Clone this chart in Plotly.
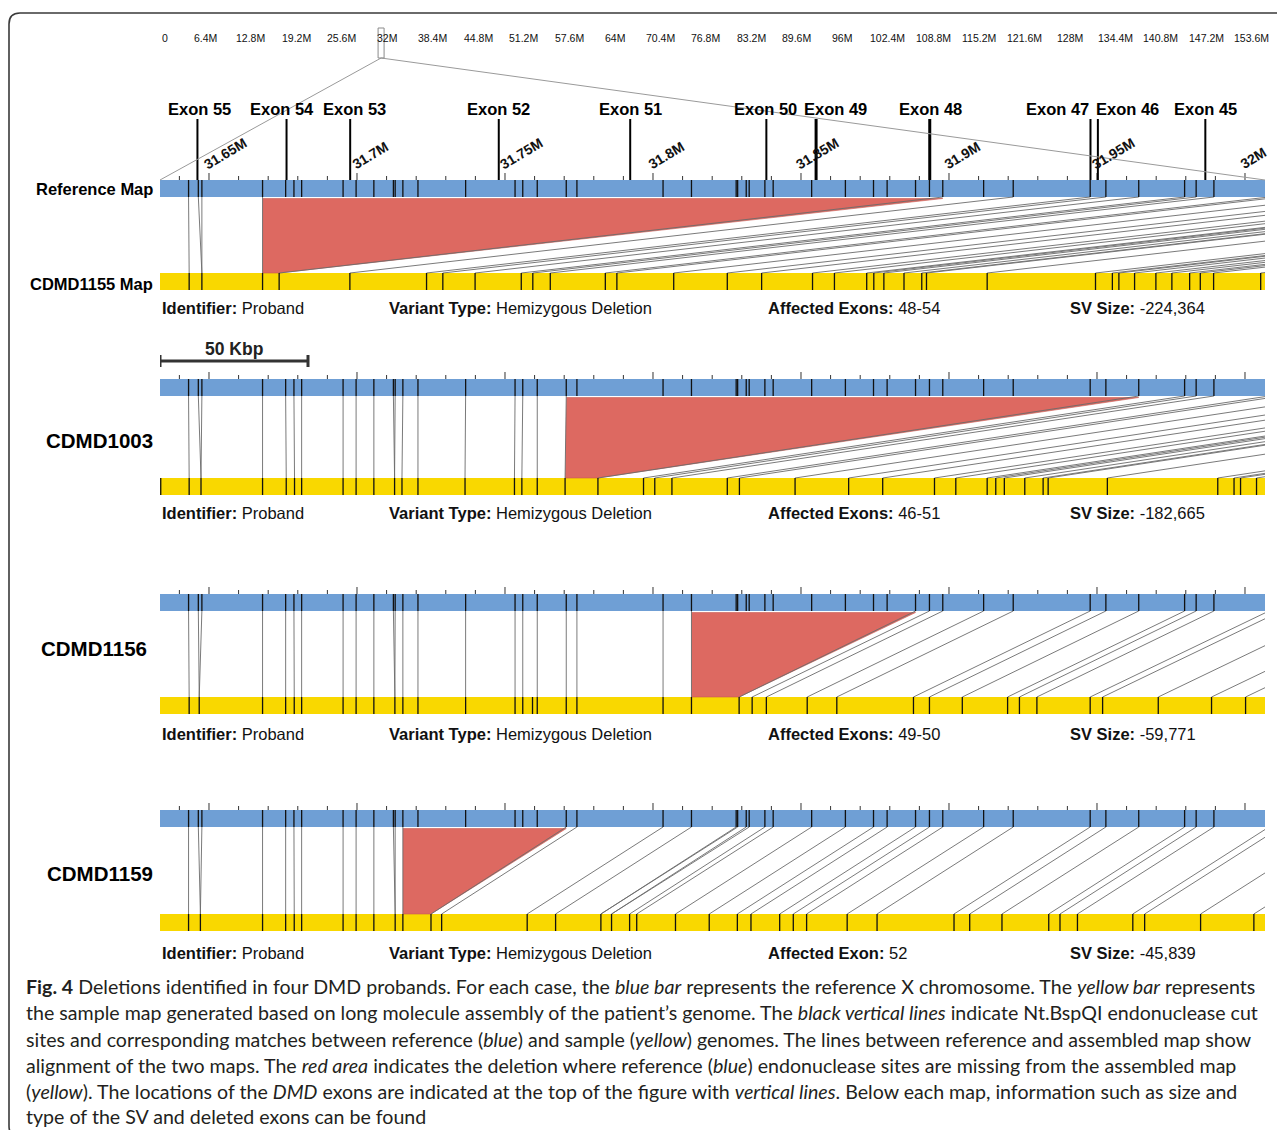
import plotly.graph_objects as go

# ------------------------------------------------------------------ data
# chromosome X overview scale (Mb)
chrom_tick_mb = [0, 6.4, 12.8, 19.2, 25.6, 32, 38.4, 44.8, 51.2, 57.6, 64, 70.4, 76.8,
                 83.2, 89.6, 96, 102.4, 108.8, 115.2, 121.6, 128, 134.4, 140.8, 147.2, 153.6]
chrom_tick_text = ["0", "6.4M", "12.8M", "19.2M", "25.6M", "32M", "38.4M", "44.8M", "51.2M",
                   "57.6M", "64M", "70.4M", "76.8M", "83.2M", "89.6M", "96M", "102.4M", "108.8M",
                   "115.2M", "121.6M", "128M", "134.4M", "140.8M", "147.2M", "153.6M"]
chrom_len_mb = 155.44
overview_marker_mb = 31.1   # where the zoom box sits on the overview scale

# zoomed window on chrX (kb)
window_kb = [31633.45, 32006.76]
major_tick_kb = [31650, 31700, 31750, 31800, 31850, 31900, 31950, 32000]
major_tick_text = ["31.65M", "31.7M", "31.75M", "31.8M", "31.85M", "31.9M", "31.95M", "32M"]
minor_tick_kb = list(range(31640, 32001, 10))
scale_bar_kb = 50

exon_names = ["Exon 55", "Exon 54", "Exon 53", "Exon 52", "Exon 51", "Exon 50",
              "Exon 49", "Exon 48", "Exon 47", "Exon 46", "Exon 45"]
exon_kb = [31646.1, 31676.2, 31697.7, 31747.9, 31792.3, 31838.3,
           31855.1, 31893.5, 31947.8, 31950.3, 31986.6]

# reference (blue) Nt.BspQI sites inside the window (kb)
ref_sites_kb = [31643.1, 31646.4, 31647.6, 31668.1, 31675.9, 31678.7, 31681.3, 31695.3,
                31699.7, 31705.7, 31712.3, 31712.9, 31715.5, 31720.6, 31736.7, 31753.4,
                31756.0, 31760.9, 31770.7, 31774.3, 31803.4, 31813.0, 31828.1, 31828.6,
                31831.5, 31832.5, 31837.8, 31840.6, 31853.6, 31865.0, 31874.5, 31879.1,
                31888.7, 31893.4, 31897.9, 31911.7, 31921.7, 31947.7, 31953.0, 31964.1,
                31979.6, 31983.5, 31989.5]

sample_names = ["CDMD1155", "CDMD1003", "CDMD1156", "CDMD1159"]

# CDMD1155 assembled map
s1155_sites_kb = [31643.3, 31647.6, 31668.1, 31673.7, 31697.6, 31723.5, 31729.0, 31739.9,
                  31755.5, 31759.4, 31765.3, 31783.9, 31787.8, 31807.0, 31825.1, 31836.7,
                  31853.9, 31861.3, 31872.2, 31874.6, 31878.0, 31884.8, 31890.8, 31892.4,
                  31912.9, 31949.5, 31955.2, 31957.4, 31962.7, 31969.9, 31975.3, 31981.3,
                  31984.9, 31989.4, 32005.3]
s1155_align_ref_kb = [31643.1, 31646.4, 31647.6, 31668.1, 31897.9, 31921.7, 31947.7, 31953.0,
                      31964.1, 31979.6, 31983.5, 31989.5, 32008.1, 32012.2, 32031.1, 32049.3,
                      32060.8, 32078.0, 32085.5, 32096.3, 32098.6, 32102.0, 32108.8, 32114.9,
                      32116.6, 32136.8, 32173.6, 32179.4, 32181.4, 32186.8, 32194.3, 32199.7,
                      32205.7, 32209.1, 32213.9, 32229.7]
s1155_align_smp_kb = [31643.3, 31647.6, 31647.6, 31668.1, 31673.7, 31697.6, 31723.5, 31729.0,
                      31739.9, 31755.5, 31759.4, 31765.3, 31783.9, 31787.8, 31807.0, 31825.1,
                      31836.7, 31853.9, 31861.3, 31872.2, 31874.6, 31878.0, 31884.8, 31890.8,
                      31892.4, 31912.9, 31949.5, 31955.2, 31957.4, 31962.7, 31969.9, 31975.3,
                      31981.3, 31984.9, 31989.4, 32005.3]

# CDMD1003 assembled map
s1003_sites_kb = [31633.7, 31643.3, 31647.3, 31668.1, 31676.1, 31678.9, 31681.3, 31695.3,
                  31699.7, 31705.7, 31712.7, 31715.2, 31720.6, 31736.5, 31753.2, 31755.7,
                  31760.9, 31770.3, 31781.4, 31796.8, 31800.6, 31806.4, 31825.1, 31829.2,
                  31848.0, 31866.1, 31877.6, 31895.1, 31902.3, 31912.9, 31915.8, 31918.7,
                  31925.6, 31931.8, 31933.5, 31953.5, 31990.8, 31996.3, 31998.5, 32003.9]
s1003_align_ref_kb = [31643.1, 31646.4, 31647.6, 31668.1, 31675.9, 31678.7, 31681.3, 31695.3,
                      31699.7, 31705.7, 31712.3, 31712.9, 31715.5, 31720.6, 31736.7, 31753.4,
                      31756.0, 31760.9, 31770.7, 31964.1, 31979.6, 31983.5, 31989.5, 32008.1,
                      32012.2, 32031.1, 32049.3, 32060.8, 32078.0, 32085.5, 32096.3, 32098.6,
                      32102.0, 32108.8, 32114.9, 32116.6, 32136.8, 32173.6, 32179.4, 32181.4,
                      32186.8]
s1003_align_smp_kb = [31643.3, 31647.3, 31647.3, 31668.1, 31676.1, 31678.9, 31681.3, 31695.3,
                      31699.7, 31705.7, 31712.7, 31712.7, 31715.2, 31720.6, 31736.5, 31753.2,
                      31755.7, 31760.9, 31770.3, 31781.4, 31796.8, 31800.6, 31806.4, 31825.1,
                      31829.2, 31848.0, 31866.1, 31877.6, 31895.1, 31902.3, 31912.9, 31915.8,
                      31918.7, 31925.6, 31931.8, 31933.5, 31953.5, 31990.8, 31996.3, 31998.5,
                      32003.9]

# CDMD1156 assembled map
s1156_sites_kb = [31643.3, 31646.7, 31668.1, 31675.9, 31678.8, 31681.3, 31695.3, 31699.7,
                  31705.7, 31712.8, 31715.5, 31720.6, 31736.7, 31753.4, 31756.0, 31759.3,
                  31760.9, 31770.7, 31774.3, 31803.4, 31813.0, 31829.1, 31833.5, 31838.3,
                  31852.1, 31862.1, 31888.0, 31893.4, 31904.5, 31919.8, 31923.8, 31929.7,
                  31947.7, 31951.9, 31970.7, 31988.7, 32000.2]
s1156_align_ref_kb = [31643.1, 31646.4, 31647.6, 31668.1, 31675.9, 31678.7, 31681.3, 31695.3,
                      31699.7, 31705.7, 31712.3, 31712.9, 31715.5, 31720.6, 31736.7, 31753.4,
                      31756.0, 31760.9, 31770.7, 31774.3, 31803.4, 31813.0, 31888.7, 31893.4,
                      31897.9, 31911.7, 31921.7, 31947.7, 31953.0, 31964.1, 31979.6, 31983.5,
                      31989.5, 32008.1, 32012.2, 32031.1, 32049.3, 32060.8]
s1156_align_smp_kb = [31643.3, 31646.7, 31646.7, 31668.1, 31675.9, 31678.8, 31681.3, 31695.3,
                      31699.7, 31705.7, 31712.8, 31712.8, 31715.5, 31720.6, 31736.7, 31753.4,
                      31756.0, 31760.9, 31770.7, 31774.3, 31803.4, 31813.0, 31829.1, 31833.5,
                      31838.3, 31852.1, 31862.1, 31888.0, 31893.4, 31904.5, 31919.8, 31923.8,
                      31929.7, 31947.7, 31951.9, 31970.7, 31988.7, 32000.2]

# CDMD1159 assembled map
s1159_sites_kb = [31643.1, 31647.1, 31668.1, 31675.9, 31678.8, 31681.3, 31695.3, 31699.7,
                  31705.7, 31712.9, 31715.5, 31725.0, 31728.6, 31757.5, 31767.1, 31782.4,
                  31786.0, 31792.1, 31794.5, 31807.6, 31819.0, 31828.5, 31833.1, 31842.8,
                  31847.4, 31851.9, 31865.6, 31875.7, 31901.7, 31907.0, 31917.9, 31933.7,
                  31937.5, 31943.4, 31962.1, 31966.1, 31985.0, 32003.0]
s1159_align_ref_kb = [31643.1, 31646.4, 31647.6, 31668.1, 31675.9, 31678.7, 31681.3, 31695.3,
                      31699.7, 31705.7, 31712.3, 31712.9, 31715.5, 31770.7, 31774.3, 31803.4,
                      31813.0, 31828.1, 31828.6, 31831.5, 31832.5, 31837.8, 31840.6, 31853.6,
                      31865.0, 31874.5, 31879.1, 31888.7, 31893.4, 31897.9, 31911.7, 31921.7,
                      31947.7, 31953.0, 31964.1, 31979.6, 31983.5, 31989.5, 32008.1, 32012.2,
                      32031.1, 32049.3]
s1159_align_smp_kb = [31643.1, 31647.1, 31647.1, 31668.1, 31675.9, 31678.8, 31681.3, 31695.3,
                      31699.7, 31705.7, 31712.9, 31712.9, 31715.5, 31725.0, 31728.6, 31757.5,
                      31767.1, 31782.4, 31782.4, 31786.0, 31786.0, 31792.1, 31794.5, 31807.6,
                      31819.0, 31828.5, 31833.1, 31842.8, 31847.4, 31851.9, 31865.6, 31875.7,
                      31901.7, 31907.0, 31917.9, 31933.7, 31937.5, 31943.4, 31962.1, 31966.1,
                      31985.0, 32003.0]

# deletion flanks (kb): reference start/end, sample start/end
del_ref_start_kb = [31668.1, 31770.7, 31813.0, 31715.5]
del_ref_end_kb = [31897.9, 31964.1, 31888.7, 31770.7]
del_smp_start_kb = [31668.1, 31770.3, 31813.0, 31715.5]
del_smp_end_kb = [31673.7, 31781.4, 31829.1, 31725.0]

identifiers = ["Proband", "Proband", "Proband", "Proband"]
variant_types = ["Hemizygous Deletion"] * 4
affected_keys = ["Affected Exons:", "Affected Exons:", "Affected Exons:", "Affected Exon:"]
affected_vals = ["48-54", "46-51", "49-50", "52"]
sv_sizes = ["-224,364", "-182,665", "-59,771", "-45,839"]

caption_lines = [
    "<b>Fig. 4</b> Deletions identified in four DMD probands. For each case, the <i>blue bar</i> represents the reference X chromosome. The <i>yellow bar</i> represents",
    "the sample map generated based on long molecule assembly of the patient’s genome. The <i>black vertical lines</i> indicate Nt.BspQI endonuclease cut",
    "sites and corresponding matches between reference (<i>blue</i>) and sample (<i>yellow</i>) genomes. The lines between reference and assembled map show",
    "alignment of the two maps. The <i>red area</i> indicates the deletion where reference (<i>blue</i>) endonuclease sites are missing from the assembled map",
    "(<i>yellow</i>). The locations of the <i>DMD</i> exons are indicated at the top of the figure with <i>vertical lines</i>. Below each map, information such as size and",
    "type of the SV and deleted exons can be found",
]

align_ref = [s1155_align_ref_kb, s1003_align_ref_kb, s1156_align_ref_kb, s1159_align_ref_kb]
align_smp = [s1155_align_smp_kb, s1003_align_smp_kb, s1156_align_smp_kb, s1159_align_smp_kb]
sample_sites = [s1155_sites_kb, s1003_sites_kb, s1156_sites_kb, s1159_sites_kb]
for a, b in zip(align_ref, align_smp):
    assert len(a) == len(b)

# ------------------------------------------------------------------ layout / style
W, H = 1277, 1122
PL, PR = 160, 1265          # page pixel extent of the map window
PAGE_TOP, PAGE_BOT = 8, 1130
BAR_H = 17
blue_top = [180, 379, 594, 810]
yellow_top = [273, 478, 697, 914]
info_y = [308, 513, 734, 953]
name_y = [None, 440, 648, 873]
name_right = [155, 155, 149, 155]
info_x = [160, 387, 766, 1068]
exon_label_shift = [2, -5, 4, 0, 0, -1, 19, 1, -33, 30, 0]
exon_width = [2, 2, 2, 2, 2, 2, 3, 3, 2, 2, 2]
caption_y = [986, 1012.5, 1039, 1065, 1091, 1116.5]

BLUE = "#6F9FD5"
YELLOW = "#F9D800"
RED = "#DD6961"
FONT = "Liberation Sans, Arial, Helvetica, sans-serif"
CAPFONT = "Lato, Open Sans, sans-serif"


def paper(xpage):
    return (xpage - PL) / (PR - PL)


def segs(x0s, y0s, x1s, y1s):
    X, Y = [], []
    for a, b, c, d in zip(x0s, y0s, x1s, y1s):
        X += [a, c, None]
        Y += [b, d, None]
    return X, Y


fig = go.Figure()

# red deletion areas
for i in range(4):
    bb = blue_top[i] + BAR_H
    yt = yellow_top[i]
    fig.add_trace(go.Scatter(
        x=[del_ref_start_kb[i], del_ref_end_kb[i], del_smp_end_kb[i], del_smp_start_kb[i]],
        y=[bb + 1.5, bb + 1.5, yt, yt], fill="toself", fillcolor=RED, mode="lines",
        line=dict(color="#C65A52", width=0.6), hoverinfo="skip", showlegend=False))

# alignment lines
AX, AY = [], []
for i in range(4):
    bb = blue_top[i] + BAR_H
    yt = yellow_top[i]
    n = len(align_ref[i])
    X, Y = segs(align_ref[i], [bb] * n, align_smp[i], [yt] * n)
    AX += X
    AY += Y
fig.add_trace(go.Scatter(x=AX, y=AY, mode="lines", line=dict(color="#6b6b6b", width=0.9),
                         hoverinfo="skip", showlegend=False))

# cut-site lines in bars
SX, SY = [], []
for i in range(4):
    n = len(ref_sites_kb)
    X, Y = segs(ref_sites_kb, [blue_top[i]] * n, ref_sites_kb, [blue_top[i] + BAR_H] * n)
    SX += X
    SY += Y
    m = len(sample_sites[i])
    X, Y = segs(sample_sites[i], [yellow_top[i]] * m, sample_sites[i], [yellow_top[i] + BAR_H] * m)
    SX += X
    SY += Y
fig.add_trace(go.Scatter(x=SX, y=SY, mode="lines", line=dict(color="#111111", width=1.3),
                         hoverinfo="skip", showlegend=False))

# ticks above blue bars
TX, TY = [], []
for i in range(4):
    for t in minor_tick_kb:
        h = 7 if t in major_tick_kb else 4
        TX += [t, t, None]
        TY += [blue_top[i] - h, blue_top[i], None]
fig.add_trace(go.Scatter(x=TX, y=TY, mode="lines", line=dict(color="#333333", width=1),
                         hoverinfo="skip", showlegend=False))

# exon lines
for ek, w in zip(exon_kb, exon_width):
    fig.add_trace(go.Scatter(x=[ek, ek], y=[119, blue_top[0]], mode="lines",
                             line=dict(color="#000000", width=w), hoverinfo="skip",
                             showlegend=False))

# 50 kbp scale bar
sb0, sb1 = window_kb[0], window_kb[0] + scale_bar_kb
fig.add_trace(go.Scatter(x=[sb0, sb1, None, sb0, sb0, None, sb1, sb1],
                         y=[361, 361, None, 355, 367, None, 355, 367], mode="lines",
                         line=dict(color="#333333", width=3), hoverinfo="skip", showlegend=False))

# zoom lines from the overview box to the window ends
fig.add_trace(go.Scatter(x=[overview_marker_mb, 0, None, overview_marker_mb, chrom_len_mb],
                         y=[58, blue_top[0], None, 58, blue_top[0]], mode="lines",
                         line=dict(color="#9a9a9a", width=1), xaxis="x2", yaxis="y",
                         hoverinfo="skip", showlegend=False))

shapes = []
for i in range(4):
    shapes.append(dict(type="rect", xref="x", yref="y", x0=window_kb[0], x1=window_kb[1],
                       y0=blue_top[i], y1=blue_top[i] + BAR_H, fillcolor=BLUE,
                       line=dict(width=0), layer="below"))
    shapes.append(dict(type="rect", xref="x", yref="y", x0=window_kb[0], x1=window_kb[1],
                       y0=yellow_top[i], y1=yellow_top[i] + BAR_H, fillcolor=YELLOW,
                       line=dict(width=0), layer="below"))
# overview box
shapes.append(dict(type="rect", xref="x2", yref="y", xsizemode="pixel",
                   xanchor=overview_marker_mb, x0=-3, x1=3, y0=28, y1=58,
                   line=dict(color="#8a8a8a", width=1), fillcolor="rgba(0,0,0,0)"))
# outer rounded frame
xl, xr = paper(9), paper(1300)
rx = 11 / (PR - PL)
yt0, yb0, r = 13, 1137, 11
frame = (f"M {xl},{yb0 - r} L {xl},{yt0 + r} Q {xl},{yt0} {xl + rx},{yt0} L {xr},{yt0} "
         f"M {xl},{yt0 + r} L {xl},{yb0 - r} Q {xl},{yb0} {xl + rx},{yb0} L {xr},{yb0}")
shapes.append(dict(type="path", xref="paper", yref="y", path=frame,
                   line=dict(color="#3a3a3a", width=1.6)))

ann = []
# chromosome labels
for p, t in zip(chrom_tick_mb, chrom_tick_text):
    ann.append(dict(x=p, y=38, xref="x2", yref="y", text=t, showarrow=False,
                    xanchor="left" if p == 0 else "center",
                    font=dict(family=FONT, size=10.5, color="#111")))
# rotated coordinate labels
for p, t in zip(major_tick_kb, major_tick_text):
    ann.append(dict(x=p, y=blue_top[0] - 5, xref="x", yref="y", text=f"<b>{t}</b>",
                    showarrow=False, textangle=-31, xanchor="left", yanchor="bottom",
                    xshift=-10, font=dict(family=FONT, size=14, color="#111")))
# exon labels
for p, t, s in zip(exon_kb, exon_names, exon_label_shift):
    ann.append(dict(x=p, y=109, xref="x", yref="y", text=f"<b>{t}</b>", showarrow=False,
                    xshift=s, font=dict(family=FONT, size=16.5, color="#000")))
# left labels
ann.append(dict(x=paper(155), y=blue_top[0] + 9, xref="paper", yref="y", xanchor="right",
                text="<b>Reference Map</b>", showarrow=False,
                font=dict(family=FONT, size=16.5, color="#000")))
ann.append(dict(x=paper(155), y=yellow_top[0] + 11, xref="paper", yref="y", xanchor="right",
                text=f"<b>{sample_names[0]} Map</b>", showarrow=False,
                font=dict(family=FONT, size=16.5, color="#000")))
for i in range(1, 4):
    ann.append(dict(x=paper(name_right[i]), y=name_y[i], xref="paper", yref="y",
                    xanchor="right", text=f"<b>{sample_names[i]}</b>", showarrow=False,
                    font=dict(family=FONT, size=20.5, color="#000")))
# info lines
for i in range(4):
    items = [f"<b>Identifier:</b> {identifiers[i]}",
             f"<b>Variant Type:</b> {variant_types[i]}",
             f"<b>{affected_keys[i]}</b> {affected_vals[i]}",
             f"<b>SV Size:</b> {sv_sizes[i]}"]
    for xp, t in zip(info_x, items):
        ann.append(dict(x=paper(xp), y=info_y[i], xref="paper", yref="y", xanchor="left",
                        text=t, showarrow=False,
                        font=dict(family=FONT, size=16.5, color="#111")))
# scale bar label
ann.append(dict(x=(sb0 + sb1) / 2, y=349, xref="x", yref="y", text="<b>50 Kbp</b>",
                showarrow=False, font=dict(family=FONT, size=17.5, color="#222")))
# caption
for yy, t in zip(caption_y, caption_lines):
    ann.append(dict(x=paper(24), y=yy, xref="paper", yref="y", xanchor="left", text=t,
                    showarrow=False, font=dict(family=CAPFONT, size=19.6, color="#231f20")))

fig.update_layout(
    width=W, height=H,
    margin=dict(l=PL - 8, r=1285 - PR, t=0, b=0, pad=0),
    paper_bgcolor="white", plot_bgcolor="white",
    xaxis=dict(range=window_kb, visible=False, fixedrange=True),
    xaxis2=dict(range=[0, chrom_len_mb], overlaying="x", visible=False, fixedrange=True),
    yaxis=dict(range=[PAGE_BOT, PAGE_TOP], visible=False, fixedrange=True),
    shapes=shapes, annotations=ann, showlegend=False,
)

fig.write_html("out.html")
